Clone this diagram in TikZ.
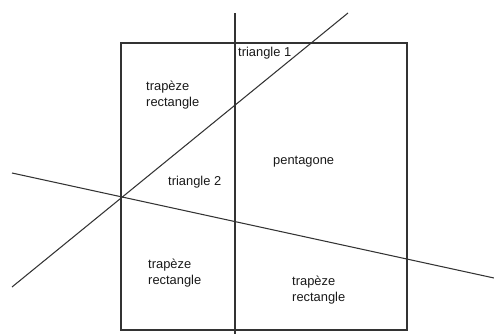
\documentclass[tikz,border=0pt]{standalone}
\usepackage{fontspec}
\setmainfont{Liberation Sans}
\usetikzlibrary{calc}

\begin{document}
\begin{tikzpicture}[
    x=0.03cm, y=-0.03cm,
    trait/.style={draw=black!80, line width=0.9pt},
    zone/.style={font=\fontsize{11}{13.6}\selectfont, align=left, anchor=west, inner sep=0pt, text=black!90},
  ]
    \useasboundingbox (0,0) rectangle (494,334);
    % the square and the three cutting lines
    \coordinate (sqNW) at (121,43);
    \coordinate (sqSE) at (407,330);
    \coordinate (vTop) at (235,13);
    \coordinate (vBot) at (235,334);
    \coordinate (dLow) at (12,287);
    \coordinate (dHigh) at (348,13);
    \coordinate (oLeft) at (12,173);
    \coordinate (oRight) at (494,278);
    \draw[trait] (sqNW) rectangle (sqSE);
    \draw[trait] (vTop) -- (vBot);
    \draw[trait] (dLow) -- (dHigh);
    \draw[trait] (oLeft) -- (oRight);
    % names of the pieces
    \node[zone] (t1) at (238,53) {triangle 1};
    \node[zone] (trNW) at (146,95) {trapèze\\rectangle};
    \node[zone] (penta) at (273,162) {pentagone};
    \node[zone] (t2) at (168,182) {triangle 2};
    \node[zone] (trSW) at (148,273) {trapèze\\rectangle};
    \node[zone] (trSE) at (292,290) {trapèze\\rectangle};
  \end{tikzpicture}
\end{document}
